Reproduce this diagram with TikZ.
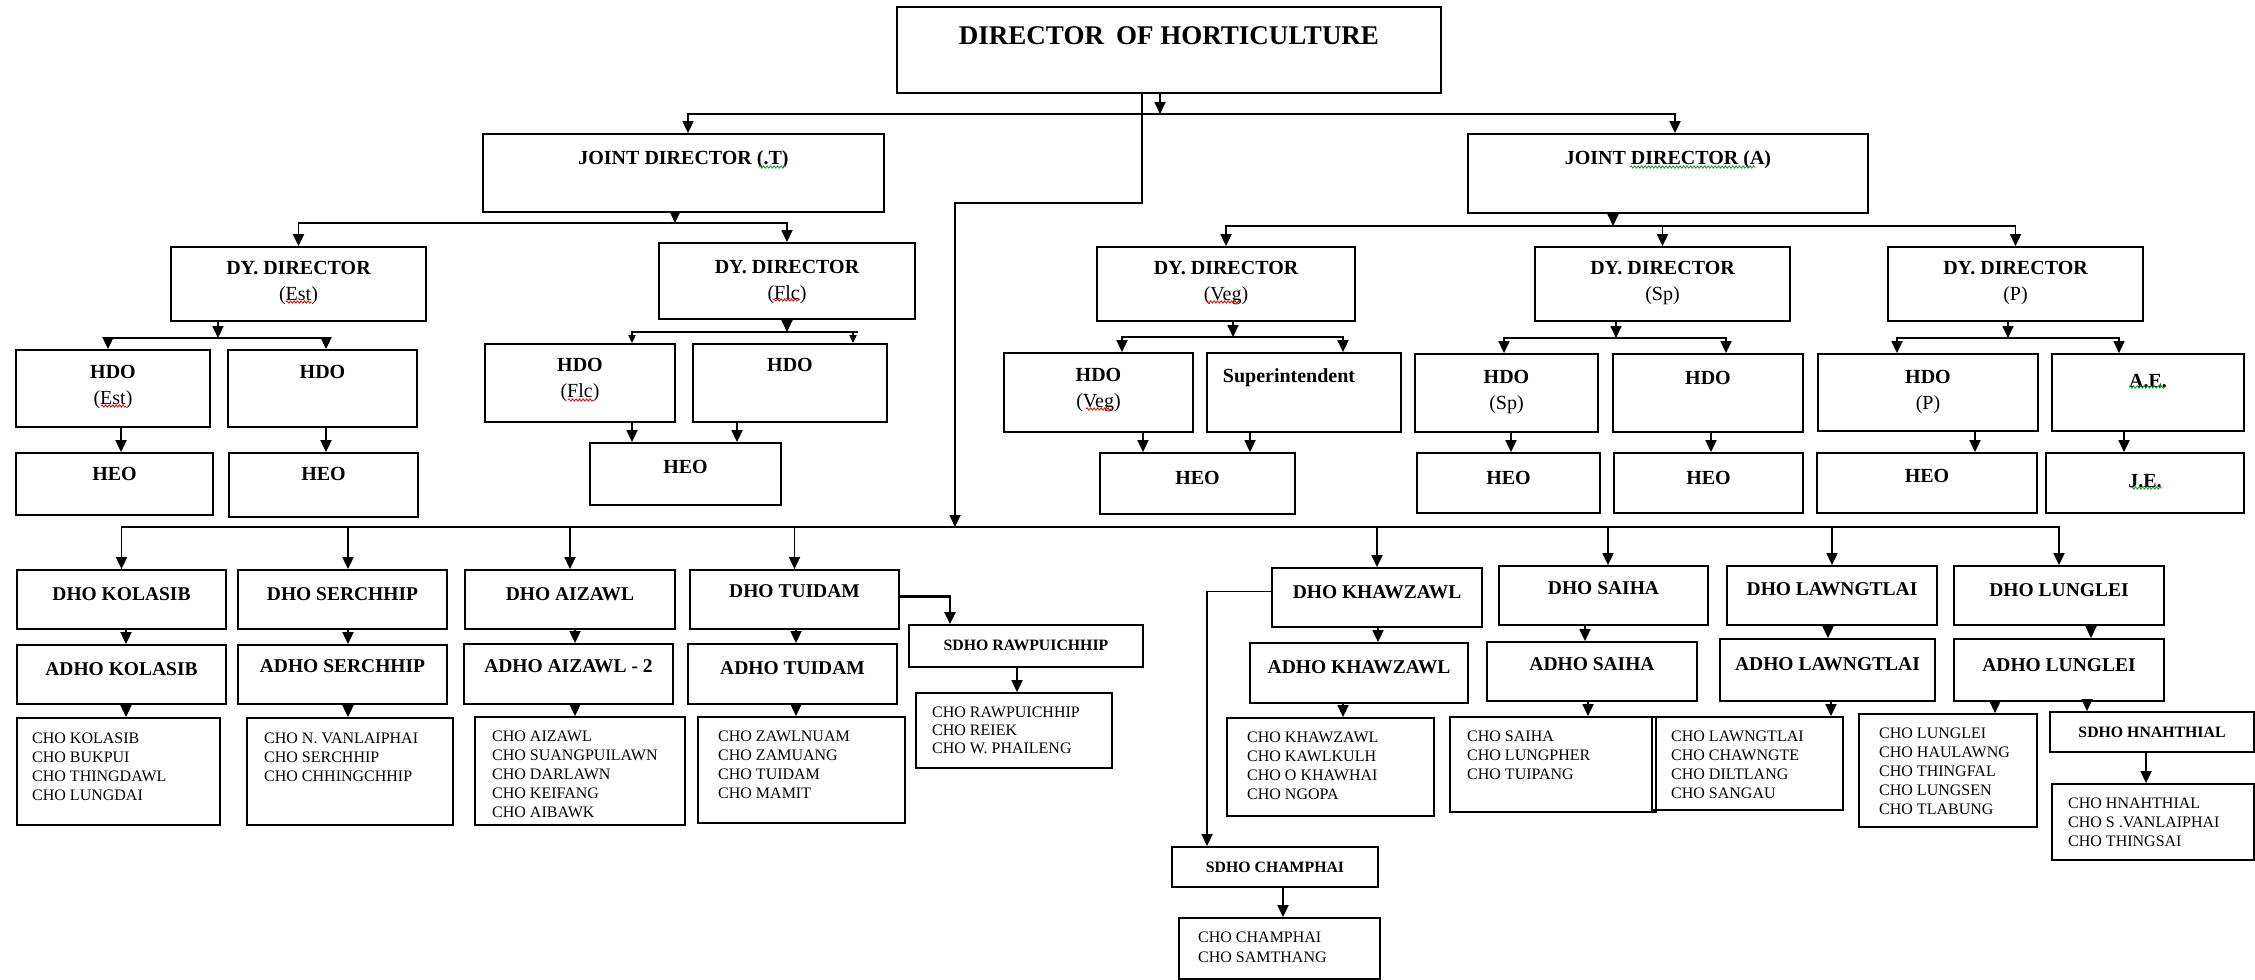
\documentclass[tikz,border=0pt]{standalone}
\usepackage{fontspec}
\setmainfont{Liberation Serif}
\usetikzlibrary{arrows.meta,fit,decorations.pathmorphing}

% a framed box given by two opposite corners
\newcommand\orgbox[5]{\node[box, fit={(#2,#3) (#4,#5)}] (#1) {};}
% text inside a box, centred horizontally, baseline of its last line at the given y
\newcommand\boxtext[4]{\node[#1, anchor=base] (#2-t) at (#2.center |- 0,#3) {#4};}
% vertical arrow from one box down to another at a given x
\newcommand\drop[4][arr]{\draw[#1] (#2.south -| #4,0) -- (#3.north -| #4,0);}

\definecolor{spellred}{RGB}{220,20,20}
\definecolor{spellgreen}{RGB}{20,160,40}

\begin{document}
\begin{tikzpicture}[x=1pt,y=-1pt,
  box/.style={draw, line width=1.8pt, inner sep=0pt},
  title/.style={font=\bfseries\fontsize{27}{32}\selectfont, inner sep=0pt},
  head/.style={font=\bfseries\fontsize{20}{25.5}\selectfont, align=center, inner sep=0pt},
  dhead/.style={font=\bfseries\fontsize{19.5}{24}\selectfont, align=center, inner sep=0pt},
  sub/.style={font=\bfseries\fontsize{15.8}{19}\selectfont, inner sep=0pt},
  list/.style={font=\fontsize{16}{19}\selectfont, align=left, inner sep=0pt, anchor=base west},
  arr/.style={line width=1.8pt, -{Triangle[width=11pt,length=12pt]}},
  arrs/.style={line width=1.8pt, -{Triangle[width=7pt,length=8pt]}},
  squig/.style={line width=0.9pt, decorate, decoration={snake, amplitude=1.1pt, segment length=3.5pt}}]

\useasboundingbox (0,0) rectangle (2255,980);

% ---------------- boxes ----------------
\orgbox{dir}{897}{7}{1441}{93}
\orgbox{jdt}{483}{134}{884}{212}
\orgbox{jda}{1468}{134}{1868}{213}

\orgbox{ddest}{171}{247}{426}{321}
\orgbox{ddflc}{659}{243}{915}{319}
\orgbox{ddveg}{1097}{247}{1355}{321}
\orgbox{ddsp}{1535}{247}{1790}{321}
\orgbox{ddp}{1888}{247}{2143}{321}

\orgbox{hdoest}{16}{350}{210}{427}
\orgbox{hdoestb}{228}{350}{417}{427}
\orgbox{hdoflc}{485}{344}{675}{422}
\orgbox{hdoflcb}{693}{344}{887}{422}
\orgbox{hdoveg}{1004}{353}{1193}{432}
\orgbox{supt}{1207}{353}{1401}{432}
\orgbox{hdosp}{1415}{354}{1598}{432}
\orgbox{hdospb}{1613}{354}{1803}{432}
\orgbox{hdop}{1818}{354}{2038}{431}
\orgbox{ae}{2052}{354}{2244}{431}

\orgbox{heoest}{16}{453}{213}{515}
\orgbox{heoestb}{229}{453}{418}{517}
\orgbox{heoflc}{590}{443}{781}{505}
\orgbox{heoveg}{1100}{453}{1295}{514}
\orgbox{heosp}{1417}{453}{1600}{513}
\orgbox{heospb}{1614}{453}{1803}{513}
\orgbox{heop}{1817}{453}{2037}{513}
\orgbox{je}{2046}{453}{2244}{513}

\orgbox{dhokol}{17}{570}{226}{629}
\orgbox{dhoser}{238}{570}{447}{629}
\orgbox{dhoaiz}{465}{570}{675}{629}
\orgbox{dhotui}{690}{570}{899}{629}
\orgbox{dhokhaw}{1272}{568}{1482}{627}
\orgbox{dhosai}{1499}{566}{1708}{625}
\orgbox{dholaw}{1727}{566}{1937}{625}
\orgbox{dholun}{1954}{566}{2164}{625}

\orgbox{adhokol}{17}{645}{226}{704}
\orgbox{adhoser}{238}{645}{447}{704}
\orgbox{adhoaiz}{464}{644}{673}{704}
\orgbox{adhotui}{688}{644}{897}{704}
\orgbox{adhokhaw}{1250}{643}{1468}{703}
\orgbox{adhosai}{1487}{642}{1697}{701}
\orgbox{adholaw}{1720}{639}{1935}{701}
\orgbox{adholun}{1954}{639}{2164}{701}

\orgbox{chokol}{17}{718}{220}{825}
\orgbox{choser}{247}{718}{453}{825}
\orgbox{choaiz}{475}{717}{685}{825}
\orgbox{chotui}{698}{717}{905}{823}
\orgbox{chokhaw}{1227}{718}{1434}{816}
\orgbox{chosai}{1450}{717}{1656}{812}
\orgbox{cholaw}{1652}{717}{1843}{810}
\orgbox{cholun}{1859}{714}{2037}{827}

\orgbox{sdhoraw}{909}{625}{1143}{667}
\orgbox{chorawp}{916}{693}{1112}{768}
\orgbox{sdhocham}{1172}{847}{1378}{887}
\orgbox{chocham}{1179}{918}{1380}{979}
\orgbox{sdhohna}{2050}{712}{2254}{752}
\orgbox{chohna}{2052}{784}{2254}{860}

% ---------------- texts ----------------
\boxtext{title}{dir}{44.5}{DIRECTOR\hspace{0.2em} OF HORTICULTURE}
\boxtext{head}{jdt}{164}{JOINT DIRECTOR (.T)}
\boxtext{head}{jda}{164}{JOINT DIRECTOR (A)}

\boxtext{head}{ddest}{300}{DY. DIRECTOR\\{\mdseries (Est)}}
\boxtext{head}{ddflc}{299}{DY. DIRECTOR\\{\mdseries (Flc)}}
\boxtext{head}{ddveg}{300}{DY. DIRECTOR\\{\mdseries (Veg)}}
\boxtext{head}{ddsp}{300}{DY. DIRECTOR\\{\mdseries (Sp)}}
\boxtext{head}{ddp}{300}{DY. DIRECTOR\\{\mdseries (P)}}

\boxtext{head}{hdoest}{404}{HDO\\{\mdseries (Est)}}
\boxtext{head}{hdoestb}{378}{HDO}
\boxtext{head}{hdoflc}{397}{HDO\\{\mdseries (Flc)}}
\boxtext{head}{hdoflcb}{371}{HDO}
\boxtext{head}{hdoveg}{407}{HDO\\{\mdseries (Veg)}}
\node[head, anchor=base] (supt-t) at ([xshift=-15pt]supt.center |- 0,382) {Superintendent};
\boxtext{head}{hdosp}{409}{HDO\\{\mdseries (Sp)}}
\boxtext{head}{hdospb}{384}{HDO}
\boxtext{head}{hdop}{409}{HDO\\{\mdseries (P)}}
\boxtext{head}{ae}{387}{A.E.}

\boxtext{head}{heoest}{480}{HEO}
\boxtext{head}{heoestb}{480}{HEO}
\boxtext{head}{heoflc}{473}{HEO}
\boxtext{head}{heoveg}{484}{HEO}
\boxtext{head}{heosp}{484}{HEO}
\boxtext{head}{heospb}{484}{HEO}
\boxtext{head}{heop}{482}{HEO}
\boxtext{head}{je}{487}{J.E.}

\boxtext{dhead}{dhokol}{600}{DHO KOLASIB}
\boxtext{dhead}{dhoser}{600}{DHO SERCHHIP}
\boxtext{dhead}{dhoaiz}{600}{DHO AIZAWL}
\boxtext{dhead}{dhotui}{597}{DHO TUIDAM}
\boxtext{dhead}{dhokhaw}{598}{DHO KHAWZAWL}
\boxtext{dhead}{dhosai}{594}{DHO SAIHA}
\boxtext{dhead}{dholaw}{595}{DHO LAWNGTLAI}
\boxtext{dhead}{dholun}{596}{DHO LUNGLEI}

\boxtext{dhead}{adhokol}{675}{ADHO KOLASIB}
\boxtext{dhead}{adhoser}{672}{ADHO SERCHHIP}
\boxtext{dhead}{adhoaiz}{672}{ADHO AIZAWL - 2}
\boxtext{dhead}{adhotui}{674}{ADHO TUIDAM}
\boxtext{dhead}{adhokhaw}{673}{ADHO KHAWZAWL}
\boxtext{dhead}{adhosai}{670}{ADHO SAIHA}
\boxtext{dhead}{adholaw}{670}{ADHO LAWNGTLAI}
\boxtext{dhead}{adholun}{671}{ADHO LUNGLEI}

\boxtext{sub}{sdhoraw}{650}{SDHO RAWPUICHHIP}
\boxtext{sub}{sdhocham}{872}{SDHO CHAMPHAI}
\boxtext{sub}{sdhohna}{737}{SDHO HNAHTHIAL}

% circle office lists (anchored at the baseline of their last line)
\node[list] (chokol-t) at (32,800) {CHO KOLASIB\\CHO BUKPUI\\CHO THINGDAWL\\CHO LUNGDAI};
\node[list] (choser-t) at (264,781) {CHO N. VANLAIPHAI\\CHO SERCHHIP\\CHO CHHINGCHHIP};
\node[list] (choaiz-t) at (492,817) {CHO AIZAWL\\CHO SUANGPUILAWN\\CHO DARLAWN\\CHO KEIFANG\\CHO AIBAWK};
\node[list] (chotui-t) at (718,798) {CHO ZAWLNUAM\\CHO ZAMUANG\\CHO TUIDAM\\CHO MAMIT};
\node[list, font=\fontsize{16}{18}\selectfont] (chorawp-t) at (932,753) {CHO RAWPUICHHIP\\CHO REIEK\\CHO W. PHAILENG};
\node[list] (chokhaw-t) at (1247,799) {CHO KHAWZAWL\\CHO KAWLKULH\\CHO O KHAWHAI\\CHO NGOPA};
\node[list] (chosai-t) at (1467,779) {CHO SAIHA\\CHO LUNGPHER\\CHO TUIPANG};
\node[list] (cholaw-t) at (1671,798) {CHO LAWNGTLAI\\CHO CHAWNGTE\\CHO DILTLANG\\CHO SANGAU};
\node[list] (cholun-t) at (1879,814) {CHO LUNGLEI\\CHO HAULAWNG\\CHO THINGFAL\\CHO LUNGSEN\\CHO TLABUNG};
\node[list] (chohna-t) at (2068,846) {CHO HNAHTHIAL\\CHO S .VANLAIPHAI\\CHO THINGSAI};
\node[list, font=\fontsize{16}{20}\selectfont] (chocham-t) at (1198,962) {CHO CHAMPHAI\\CHO SAMTHANG};

% ---------------- connectors ----------------
% director to the joint directors
\coordinate (b0) at (1160,114);
\draw[arr] (dir.south -| b0) -- (b0);
\draw[arr] (b0) -| ([xshift=4.5pt]jdt.north);
\draw[arr] (b0) -| ([xshift=7pt]jda.north);

% joint director (T) to deputy directors
\coordinate (b1) at (675,223);
\draw[arr] (jdt.south -| b1) -- (b1);
\draw[arr] (b1) -| (ddest.north);
\draw[arr] (b1) -| (ddflc.north);

% joint director (A) to deputy directors
\coordinate (b2) at (1613,226);
\draw[arr] (jda.south -| b2) -- (b2);
\draw[arr] (b2) -| (ddveg.north);
\draw[arr] (b2) -| (ddsp.north);
\draw[arr] (b2) -| (ddp.north);

% deputy directors to their officers
\coordinate (b3) at (218,338);
\draw[arr] (ddest.south -| b3) -- (b3);
\draw[arr] (b3) -| (hdoest.north -| 108,0);
\draw[arr] (b3) -| (hdoestb.north -| 326,0);

\coordinate (b4) at (787,332);
\draw[arr] (ddflc.south -| b4) -- (b4);
\draw[arrs] (b4) -| (hdoflc.north -| 632,0);
\draw[line width=1.8pt] (b4) -- (858,332);
\draw[arrs] (b4) -| (hdoflcb.north -| 853,0);

\coordinate (b5) at (1233,337);
\draw[arr] (ddveg.south -| b5) -- (b5);
\draw[arr] (b5) -| (hdoveg.north -| 1122,0);
\draw[arr] (b5) -| (supt.north -| 1343,0);

\coordinate (b6) at (1616,338);
\draw[arr] (ddsp.south -| b6) -- (b6);
\draw[arr] (b6) -| (hdosp.north -| 1504,0);
\draw[arr] (b6) -| (hdospb.north -| 1726,0);

\coordinate (b7) at (2008,338);
\draw[arr] (ddp.south -| b7) -- (b7);
\draw[arr] (b7) -| (hdop.north -| 1897,0);
\draw[arr] (b7) -| (ae.north -| 2119,0);

% officers to extension officers / engineers
\drop{hdoest}{heoest}{121}
\drop{hdoestb}{heoestb}{326}
\drop{hdoflc}{heoflc}{632}
\drop{hdoflcb}{heoflc}{737}
\drop{hdoveg}{heoveg}{1143}
\drop{supt}{heoveg}{1250}
\drop{hdosp}{heosp}{1511}
\drop{hdospb}{heospb}{1711}
\drop{hdop}{heop}{1975}
\drop{ae}{je}{2124}

% director down to the district offices
\coordinate (elbow) at (955,203);
\coordinate (trunk) at (955,527);
\draw[arr] (dir.south -| 1142,0) |- (elbow) -- (trunk);
\draw[arr] (trunk) -| (dhokol.north);
\draw[arr] (trunk) -| ([xshift=5.5pt]dhoser.north);
\draw[arr] (trunk) -| (dhoaiz.north);
\draw[arr] (trunk) -| (dhotui.north);
\draw[arr] (trunk) -| (dhokhaw.north);
\draw[arr] (trunk) -| ([xshift=4.5pt]dhosai.north);
\draw[arr] (trunk) -| (dholaw.north);
\draw[arr] (trunk) -| (dholun.north);

% district to assistant district offices
\drop{dhokol}{adhokol}{126}
\drop{dhoser}{adhoser}{348}
\drop{dhoaiz}{adhoaiz}{575}
\drop{dhotui}{adhotui}{796}
\drop{dhokhaw}{adhokhaw}{1378}
\drop{dhosai}{adhosai}{1585}
\drop{dholaw}{adholaw}{1828}
\drop{dholun}{adholun}{2091}

% assistant district offices to circle offices
\drop{adhokol}{chokol}{126}
\drop{adhoser}{choser}{348}
\drop{adhoaiz}{choaiz}{575}
\drop{adhotui}{chotui}{796}
\drop{adhokhaw}{chokhaw}{1343}
\drop{adhosai}{chosai}{1588}
\drop{adholaw}{cholaw}{1831}
\drop{adholun}{cholun}{1995}
\drop{adholun}{sdhohna}{2087}

% sub-divisional offices
\draw[arr, line width=2.4pt] ([yshift=3pt]dhotui.east) -| (sdhoraw.north -| 950,0);
\drop{sdhoraw}{chorawp}{1017}
\draw[arr] ([yshift=6pt]dhokhaw.west) -| (sdhocham.north -| 1207,0);
\drop{sdhocham}{chocham}{1283}
\drop{sdhohna}{chohna}{2146}

% ---------------- proofing underlines ----------------
\draw[squig, spellgreen] (759,167) -- (786,167);
\draw[squig, spellgreen] (1630,167) -- (1756,167);
\draw[squig, spellred] (286,302) -- (312,302);
\draw[squig, spellred] (773,300) -- (800,300);
\draw[squig, spellred] (1206,302) -- (1240,302);
\draw[squig, spellred] (101,406) -- (126,406);
\draw[squig, spellred] (568,400) -- (593,400);
\draw[squig, spellred] (1086,409) -- (1112,409);
\draw[squig, spellgreen] (2129,387) -- (2166,387);
\draw[squig, spellgreen] (2131,488) -- (2162,488);

\end{tikzpicture}
\end{document}
